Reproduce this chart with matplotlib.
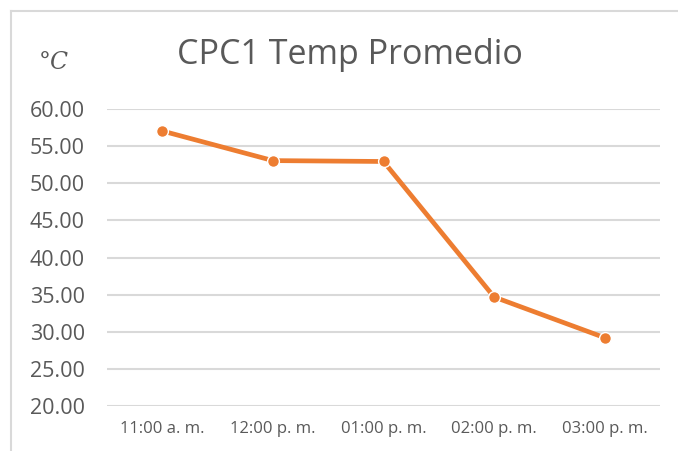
import matplotlib
matplotlib.use('Agg')
import matplotlib.pyplot as plt
from matplotlib.lines import Line2D

# Average temperature readings for CPC1
horas = ['11:00 a. m.', '12:00 p. m.', '01:00 p. m.', '02:00 p. m.', '03:00 p. m.']
temp_promedio = [57.04, 53.05, 52.93, 34.68, 29.20]
y_ticks = [20, 25, 30, 35, 40, 45, 50, 55, 60]

text_color = '#595959'
grid_color = '#d9d9d9'
line_color = '#ED7D31'

plt.rcParams['font.family'] = ['Open Sans', 'DejaVu Sans']
plt.rcParams['mathtext.fontset'] = 'dejavuserif'

fig = plt.figure(figsize=(6.78, 4.51), dpi=100)
ax = fig.add_axes([107 / 678, 1 - 406 / 451, (660 - 107) / 678, (406 - 109) / 451])

x = list(range(len(horas)))
ax.plot(x, temp_promedio, color=line_color, linewidth=3.4, marker='o',
        markersize=8.5, markerfacecolor=line_color, markeredgecolor='white',
        markeredgewidth=1.0, solid_capstyle='round', zorder=3)

ax.set_xlim(-0.5, len(horas) - 0.5)
ax.set_ylim(20, 60)
ax.set_yticks(y_ticks)
ax.set_yticklabels([f'{v:.2f}' for v in y_ticks])
ax.set_xticks(x)
ax.set_xticklabels(horas)

ax.grid(axis='y', color=grid_color, linewidth=1.5)
ax.set_axisbelow(True)
for s in ax.spines.values():
    s.set_visible(False)
ax.tick_params(axis='y', length=0, pad=16, labelsize=15.5, labelcolor=text_color)
ax.tick_params(axis='x', length=0, pad=11, labelsize=12, labelcolor=text_color)

# Title and unit label
fig.text(350 / 678, 1 - 55 / 451, 'CPC1 Temp Promedio', ha='center', va='center',
         fontsize=24.5, color=text_color)
fig.text(54 / 678, 1 - 63 / 451, r'$°\mathit{C}$', ha='center', va='center',
         fontsize=17, color=text_color)

# Chart area border (left and top edges)
fig.add_artist(Line2D([10.5 / 678, 10.5 / 678], [0, 1 - 11 / 451],
                      color=grid_color, linewidth=1.5))
fig.add_artist(Line2D([10.5 / 678, 1], [1 - 11 / 451, 1 - 11 / 451],
                      color=grid_color, linewidth=1.5))

fig.savefig('out.png', dpi=100)
